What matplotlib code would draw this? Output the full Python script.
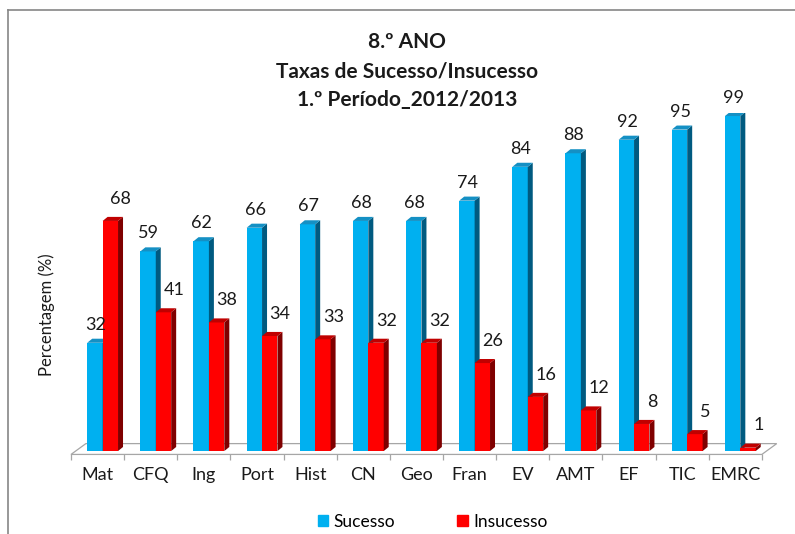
import matplotlib
matplotlib.use("Agg")
import matplotlib.pyplot as plt
from matplotlib.patches import Polygon, Patch
from matplotlib.lines import Line2D

plt.rcParams["font.family"] = ["Lato", "DejaVu Sans"]

# data
disciplinas = ["Mat", "CFQ", "Ing", "Port", "Hist", "CN", "Geo", "Fran", "EV", "AMT", "EF", "TIC", "EMRC"]
sucesso = [32, 59, 62, 66, 67, 68, 68, 74, 84, 88, 92, 95, 99]
insucesso = [68, 41, 38, 34, 33, 32, 32, 26, 16, 12, 8, 5, 1]

BLUE = ("#00b0f0", "#005a80", "#1490c4")   # front, side, top
RED = ("#ff0000", "#7f0000", "#c00000")
W = 0.29
DX, DY = 0.094, 1.2  # fake 3d depth


def bars3d(ax, xs, vals, cols, lab_off):
    front, side, top = cols
    for x, v in zip(xs, vals):
        ax.bar(x, v, width=W, color=front, zorder=3)
        r, l = x + W / 2, x - W / 2
        ax.add_patch(Polygon([(r, 0), (r + DX, DY), (r + DX, v + DY), (r, v)],
                             closed=True, facecolor=side, edgecolor="none", zorder=3))
        ax.add_patch(Polygon([(l, v), (r, v), (r + DX, v + DY), (l + DX, v + DY)],
                             closed=True, facecolor=top, edgecolor="none", zorder=3))
        ax.annotate(str(v), (x, v), xytext=lab_off, textcoords="offset points",
                    ha="center", va="center", fontsize=13, color="#1a1a1a", zorder=5)


fig = plt.figure(figsize=(7.95, 5.34), dpi=100)
ax = fig.add_axes([0.0893, 0.149, 0.869, 0.640])

n = len(disciplinas)
idx = list(range(n))

# floor
ax.add_patch(Polygon([(-0.5, -1), (n - 0.5, -1), (n - 0.22, 2.2), (-0.22, 2.2)],
                     closed=True, facecolor="white", edgecolor="#a6a6a6", lw=0.9,
                     zorder=1, clip_on=False))

bars3d(ax, [i - 0.05 for i in idx], sucesso, BLUE, (0.5, 13))
bars3d(ax, [i + 0.24 for i in idx], insucesso, RED, (7.5, 16))

ax.set_xlim(-0.5, n - 0.5)
ax.set_ylim(-1, 100)
for s in ax.spines.values():
    s.set_visible(False)
ax.set_yticks([])
ax.set_xticks(idx)
ax.set_xticklabels(disciplinas, fontsize=13, color="#1a1a1a")
ax.set_xticks([i - 0.5 for i in range(n + 1)], minor=True)
ax.tick_params(axis="x", which="major", length=0, pad=9)
ax.tick_params(axis="x", which="minor", length=4, color="#a6a6a6", width=0.9)

fig.text(47 / 795, 1 - 315 / 534, "Percentagem (%)", rotation=90, ha="center", va="center",
         fontsize=12, color="#1a1a1a")

titulos = ["8.º ANO", "Taxas de Sucesso/Insucesso", "1.º Período_2012/2013"]
for t, y in zip(titulos, [42, 71, 100]):
    fig.text(407 / 795, 1 - y / 534, t, ha="center", va="center", fontsize=15,
             fontweight="bold", color="#1a1a1a")

handles = [Patch(color=BLUE[0], label="Sucesso"), Patch(color=RED[0], label="Insucesso")]
fig.legend(handles=handles, loc="center", bbox_to_anchor=(0.544, 1 - 522 / 534), ncol=2,
           frameon=False, fontsize=12.5, handlelength=0.6, handleheight=0.6,
           handletextpad=0.3, columnspacing=3.6)

# chart border (left and top edges visible)
fig.add_artist(Line2D([8 / 795, 8 / 795], [0, 1 - 10 / 534], color="#868686", lw=1.2))
fig.add_artist(Line2D([8 / 795, 1], [1 - 10 / 534, 1 - 10 / 534], color="#868686", lw=1.2))

fig.savefig("out.png", dpi=100)
